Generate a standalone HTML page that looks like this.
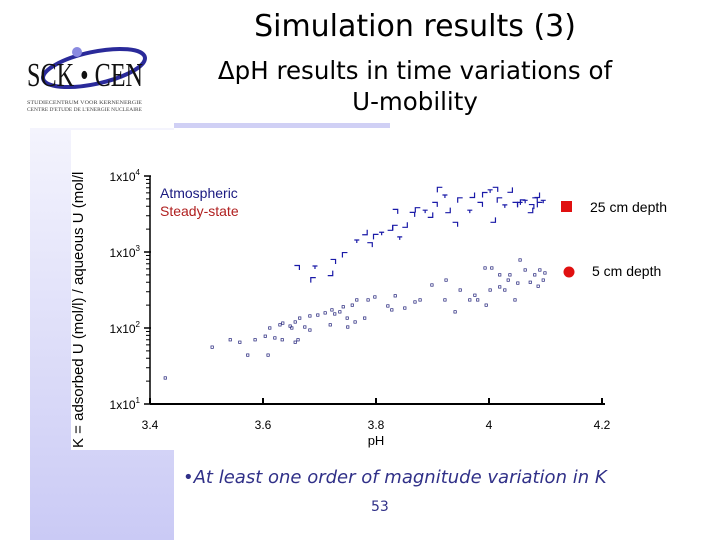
<!DOCTYPE html>
<html><head><meta charset="utf-8">
<style>
body{margin:0;width:720px;height:540px;background:#fff;position:relative;overflow:hidden;font-family:"DejaVu Sans","Liberation Sans",sans-serif}
.abs{position:absolute}
</style></head>
<body>
<div class="abs" style="left:30px;top:128px;width:144px;height:412px;background:linear-gradient(#f4f4fd,#cacaf5)"></div>
<div class="abs" style="left:174px;top:123px;width:216px;height:5px;background:#d0d0f5"></div>
<div class="abs" style="left:22px;top:40px;width:130px;height:80px">
 <svg width="130" height="80">
  <ellipse cx="72" cy="28" rx="52" ry="16" fill="none" stroke="#2a2a9a" stroke-width="4" transform="rotate(-12 72 28)"/>
  <circle cx="55" cy="12" r="5" fill="#8a8ae0"/>
  <text x="5" y="46" font-family="Liberation Serif" font-size="34" fill="#111" textLength="116" lengthAdjust="spacingAndGlyphs">SCK • CEN</text>
  <text x="5" y="64" font-family="Liberation Serif" font-size="5.5" fill="#444" textLength="115" lengthAdjust="spacingAndGlyphs">STUDIECENTRUM VOOR KERNENERGIE</text>
  <text x="5" y="71" font-family="Liberation Serif" font-size="5.5" fill="#444" textLength="115" lengthAdjust="spacingAndGlyphs">CENTRE D'ETUDE DE L'ENERGIE NUCLEAIRE</text>
 </svg>
</div>
<div class="abs" style="left:215px;top:9px;width:400px;text-align:center;font-size:30px">Simulation results (3)</div>
<div class="abs" style="left:195px;top:55px;width:440px;text-align:center;font-size:24.5px;line-height:31px">ΔpH results in time variations of<br>U-mobility</div>

<div class="abs" style="left:71px;top:130px;width:620px;height:320px;background:#fff"></div>
<div class="abs" style="left:70px;top:130px;width:18px;height:318px;overflow:hidden">
 <div style="position:absolute;left:-150px;top:150px;width:318px;transform:rotate(-90deg);white-space:nowrap;font-family:'Liberation Sans',sans-serif;font-size:15px;line-height:18px">K = adsorbed U (mol/l) / aqueous U (mol/l</div>
</div>
<svg class="abs" id="chart" style="left:0;top:0" width="720" height="540" font-family="Liberation Sans, sans-serif"></svg>

<div class="abs" style="left:183px;top:467px;font-size:18px;font-style:italic;color:#303088">•At least one order of magnitude variation in K</div>
<div class="abs" style="left:371px;top:499px;font-size:14px;color:#303088">53</div>

<script>
const xTicks=[3.4,3.6,3.8,4.0,4.2];
const xTickLabels=["3.4","3.6","3.8","4","4.2"];
const yDecades=[1,2,3,4];
const depth25pH=[3.66,3.689,3.692,3.719,3.724,3.745,3.766,3.78,3.789,3.80,3.81,3.825,3.834,3.834,3.842,3.851,3.864,3.874,3.887,3.896,3.904,3.913,3.922,3.927,3.94,3.949,3.966,3.97,3.984,3.993,4.002,4.007,4.011,4.019,4.028,4.037,4.046,4.055,4.064,4.073,4.081,4.09,4.096,4.085,4.075,4.06];
const depth25K=[616,427,655,527,740,912,1440,1820,1230,1580,1820,2080,3370,2080,1580,2280,3080,3550,3550,3080,4170,6580,5620,3550,2280,4790,3550,5620,4170,5620,6580,2650,6580,4790,4170,6580,4170,4170,4790,3550,4790,4170,4790,5620,3900,4500];
const depth5pH=[3.427,3.51,3.542,3.559,3.573,3.586,3.609,3.604,3.621,3.612,3.63,3.634,3.648,3.657,3.662,3.665,3.674,3.683,3.697,3.71,3.719,3.727,3.736,3.742,3.749,3.758,3.763,3.766,3.635,3.651,3.657,3.683,3.722,3.75,3.78,3.786,3.798,3.821,3.828,3.834,3.851,3.869,3.878,3.899,3.924,3.922,3.949,3.94,3.966,3.98,3.995,3.975,4.002,4.005,4.019,3.993,4.028,4.034,4.046,4.051,4.055,4.064,4.073,4.081,4.09,4.096,4.087,4.099,4.037,4.019];
const depth5K=[22,56,70,65,44,70,44,78,74,100,110,70,106,120,70,135,103,94,148,158,110,153,163,190,135,200,120,234,116,100,65,144,173,103,135,234,256,195,173,265,183,220,234,368,427,234,316,163,234,234,200,270,316,616,500,616,316,427,234,390,785,580,400,500,580,427,355,530,500,347];

const svg=document.getElementById('chart');
const NS='http://www.w3.org/2000/svg';
const X0=150,Y0=404,PX=565,DEC=76;
function xs(v){return X0+(v-3.4)*PX;}
function ys(k){return Y0-(Math.log10(k)-1)*DEC;}
function mk(t,a){const e=document.createElementNS(NS,t);for(const k in a)e.setAttribute(k,a[k]);svg.appendChild(e);return e;}

let e=mk('line',{x1:X0,y1:Y0,x2:605,y2:Y0,stroke:'#000','stroke-width':2});


e=mk('line',{x1:X0,y1:Y0,x2:X0,y2:ys(10000),stroke:'#000','stroke-width':1.5});


xTicks.forEach((t,i)=>{
 const x=xs(t);
 let l=mk('line',{x1:x,y1:Y0,x2:x,y2:Y0-6,stroke:'#000','stroke-width':2});
 
 
 let tx=mk('text',{x:x,y:Y0+25,'text-anchor':'middle','font-size':12});
 tx.textContent=xTickLabels[i];
 
 
});
let xt=mk('text',{x:xs(3.8),y:Y0+41,'text-anchor':'middle','font-size':13});
xt.textContent='pH';


yDecades.forEach(d=>{
 const y=ys(Math.pow(10,d));
 let l=mk('line',{x1:X0-6,y1:y,x2:X0+1,y2:y,stroke:'#000','stroke-width':1.5});
 
 
 let tx=mk('text',{x:X0-10,y:y+5,'text-anchor':'end','font-size':12});
 tx.innerHTML='1x10<tspan dy="-6" font-size="8">'+d+'</tspan>';
 
 
 if(d<4){for(let m=2;m<=9;m++){
  const ym=ys(m*Math.pow(10,d));
  let ml=mk('line',{x1:X0-4,y1:ym,x2:X0,y2:ym,stroke:'#000','stroke-width':1});
  
  
 }}
});
depth25pH.forEach((p,i)=>{
 const x=xs(p),y=ys(depth25K[i]);
 const o=i%4;
 const d=o==0?`M${x-2.5} ${y-2.5}H${x+2.5}V${y+2}`:o==1?`M${x-2.5} ${y+2.5}V${y-2.5}H${x+2.5}`:o==2?`M${x-2.5} ${y}H${x+2.5}M${x} ${y}V${y+3}`:`M${x+2.5} ${y-2.5}V${y+2.5}H${x-2.5}`;
 let m=mk('path',{d:d,fill:'none',stroke:'#1a1aa8','stroke-width':1.2});
 
 
});
depth5pH.forEach((p,i)=>{
 const x=xs(p),y=ys(depth5K[i]);
 let m=mk('rect',{x:x-1.2,y:y-1.2,width:2.4,height:2.4,fill:'none',stroke:'#22227a','stroke-width':0.7});
 
 
});
let t=mk('text',{x:160,y:198,'font-size':14,fill:'#1a1a80'});t.textContent='Atmospheric';


t=mk('text',{x:160,y:216,'font-size':14,fill:'#b02020'});t.textContent='Steady-state';


t=mk('rect',{x:561,y:201,width:11,height:11,fill:'#e01010'});


t=mk('text',{x:590,y:212,'font-size':14});t.textContent='25 cm depth';


t=mk('circle',{cx:569,cy:272,r:5.5,fill:'#e01010'});


t=mk('text',{x:592,y:276,'font-size':14});t.textContent='5 cm depth';


</script>
</body></html>
